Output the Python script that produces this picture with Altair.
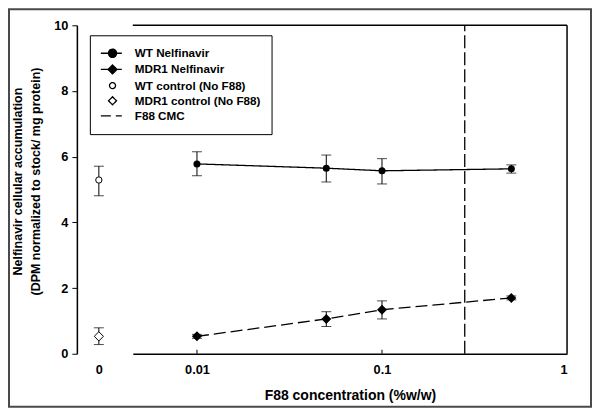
import altair as alt
import pandas as pd

# ---- data ----
conc = [0.01, 0.05, 0.1, 0.5]
wt_mean = [5.78, 5.65, 5.57, 5.63]
wt_lo = [5.42, 5.23, 5.17, 5.50]
wt_hi = [6.15, 6.05, 5.94, 5.75]
mdr_mean = [0.53, 1.06, 1.34, 1.70]
mdr_lo = [0.47, 0.83, 1.06, 1.64]
mdr_hi = [0.59, 1.28, 1.61, 1.76]

ctrl_series = ["WT control (No F88)", "MDR1 control (No F88)"]
ctrl_x = [0, 0]
ctrl_mean = [5.29, 0.53]
ctrl_lo = [4.81, 0.28]
ctrl_hi = [5.71, 0.79]

cmc = 0.28
x_ticks = [0.01, 0.1, 1]
y_ticks = [0, 2, 4, 6, 8, 10]
legend_labels = ["WT Nelfinavir", "MDR1 Nelfinavir", "WT control (No F88)",
                 "MDR1 control (No F88)", "F88 CMC"]

FONT = "Liberation Sans"
W_L, W_R, H = 56, 435, 329

wt = pd.DataFrame({"x": conc, "y": wt_mean, "lo": wt_lo, "hi": wt_hi})
mdr = pd.DataFrame({"x": conc, "y": mdr_mean, "lo": mdr_lo, "hi": mdr_hi})
ctrl = pd.DataFrame({"x": ctrl_x, "y": ctrl_mean, "lo": ctrl_lo, "hi": ctrl_hi,
                     "series": ctrl_series})
leg = pd.DataFrame({"label": legend_labels})
one = pd.DataFrame({"a": [0]})

yscale = alt.Scale(domain=[0, 10])
ytitle = ["Nelfinavir cellular accumulation", "(DPM normalized to stock/ mg protein)"]

# ---------------- left panel (x = 0) ----------------
xl_scale = alt.Scale(domain=[-1, 1.545])
xl_axis = alt.Axis(values=[0], format="d", domain=False, ticks=False, grid=False,
                   title=None, labelPadding=10)
yl_axis = alt.Axis(values=y_ticks, grid=False, tickSize=5, labelPadding=4,
                   title=ytitle, titlePadding=11, titleFontSize=12.5, titleY=156)

CAP = 10
lbase = alt.Chart(ctrl)
l_err = lbase.mark_rule(color="black", strokeWidth=1).encode(
    x=alt.X("x:Q", scale=xl_scale, axis=xl_axis),
    y=alt.Y("lo:Q", scale=yscale, axis=yl_axis),
    y2="hi:Q")
l_cap_lo = lbase.mark_tick(color="black", orient="horizontal", size=CAP, thickness=1).encode(
    x=alt.X("x:Q", scale=xl_scale), y=alt.Y("lo:Q", scale=yscale))
l_cap_hi = lbase.mark_tick(color="black", orient="horizontal", size=CAP, thickness=1).encode(
    x=alt.X("x:Q", scale=xl_scale), y=alt.Y("hi:Q", scale=yscale))
l_wt = lbase.transform_filter(alt.datum.series == ctrl_series[0]).mark_point(
    shape="circle", size=40, filled=True, fill="white", stroke="black", strokeWidth=1,
    opacity=1).encode(x=alt.X("x:Q", scale=xl_scale), y=alt.Y("y:Q", scale=yscale))
l_mdr = lbase.transform_filter(alt.datum.series == ctrl_series[1]).mark_point(
    shape="diamond", size=85, filled=True, fill="white", stroke="black", strokeWidth=1,
    opacity=1).encode(x=alt.X("x:Q", scale=xl_scale), y=alt.Y("y:Q", scale=yscale))

# outer figure border
border = alt.Chart(one).mark_rect(fill="transparent", stroke="#4a4a4a", strokeWidth=2).encode(
    x=alt.value(-68), x2=alt.value(515), y=alt.value(-16), y2=alt.value(382))

# legend (custom symbols: unit = 6px)
p_line_circle = ("M-1.167,0H2.333M1.45,0A0.667,0.667 0 1,1 0.117,0"
                 "A0.667,0.667 0 1,1 1.45,0Z")
p_line_diamond = "M-1.167,0H2.333M0.783,-0.75L1.533,0L0.783,0.75L0.033,0Z"
p_circle = "M1.283,0A0.5,0.5 0 1,1 0.283,0A0.5,0.5 0 1,1 1.283,0Z"
p_diamond = "M0.783,-0.667L1.45,0L0.783,0.667L0.117,0Z"
p_line = "M-1.167,0H2.333"
leg_props = dict(title=None, orient="none", legendX=13, legendY=10,
                 strokeColor="black", padding=11, fillColor="white",
                 labelFont=FONT, labelFontSize=11.7, labelFontWeight="bold",
                 labelColor="black", symbolStrokeWidth=1.3,
                 symbolSize=144, symbolOpacity=1, rowPadding=1.2, labelOffset=20)
legend_layer = alt.Chart(leg).mark_point(opacity=0, filled=True).encode(
    x=alt.value(0), y=alt.value(0),
    shape=alt.Shape("label:N", scale=alt.Scale(domain=legend_labels,
        range=[p_line_circle, p_line_diamond, p_circle, p_diamond, p_line]),
        legend=alt.Legend(**leg_props)),
    fill=alt.Fill("label:N", scale=alt.Scale(domain=legend_labels,
        range=["black", "black", "white", "white", "transparent"]),
        legend=alt.Legend(**leg_props)),
    stroke=alt.Stroke("label:N", scale=alt.Scale(domain=legend_labels,
        range=["black", "#000001", "#000002", "#000003", "#000004"]),
        legend=alt.Legend(**leg_props)),
    strokeDash=alt.StrokeDash("label:N", scale=alt.Scale(domain=legend_labels,
        range=[[1, 0], [1, 0], [1, 0], [1, 0], [10, 5]]),
        legend=alt.Legend(**leg_props)),
)

left = alt.layer(border, l_err, l_cap_lo, l_cap_hi, l_wt, l_mdr, legend_layer).properties(
    width=W_L, height=H)

# ---------------- right panel (log x) ----------------
xr_scale = alt.Scale(type="log", domain=[0.0045, 1])
xr_axis = alt.Axis(values=x_ticks, format="~g", ticks=False, grid=False,
                   labelPadding=10, title="F88 concentration (%w/w)", titlePadding=12,
                   titleFontSize=14)
yr = lambda f: alt.Y(f, scale=yscale, axis=None)

def series_layers(df, dash, shape, size):
    b = alt.Chart(df)
    line = b.mark_line(color="black", strokeWidth=1.3, strokeDash=dash).encode(
        x=alt.X("x:Q", scale=xr_scale, axis=xr_axis), y=yr("y:Q"))
    err = b.mark_rule(color="black", strokeWidth=1).encode(
        x=alt.X("x:Q", scale=xr_scale), y=yr("lo:Q"), y2="hi:Q")
    cap1 = b.mark_tick(color="black", orient="horizontal", size=CAP, thickness=1).encode(
        x=alt.X("x:Q", scale=xr_scale), y=yr("lo:Q"))
    cap2 = b.mark_tick(color="black", orient="horizontal", size=CAP, thickness=1).encode(
        x=alt.X("x:Q", scale=xr_scale), y=yr("hi:Q"))
    pts = b.mark_point(shape=shape, size=size, filled=True, color="black", opacity=1).encode(
        x=alt.X("x:Q", scale=xr_scale), y=yr("y:Q"))
    return [line, err, cap1, cap2, pts]

cmc_rule = alt.Chart(pd.DataFrame({"x": [cmc]})).mark_rule(
    color="black", strokeWidth=1.3, strokeDash=[13, 4]).encode(
    x=alt.X("x:Q", scale=xr_scale), y=alt.datum(0), y2=alt.datum(10))

tick_df = pd.DataFrame({"x": x_ticks[:2]})
inner_ticks = alt.Chart(tick_df).mark_rule(color="black", strokeWidth=1).encode(
    x=alt.X("x:Q", scale=xr_scale), y=alt.value(H - 4), y2=alt.value(H))
top_line = alt.Chart(one).mark_rule(color="black", strokeWidth=1.5).encode(
    x=alt.value(0), x2=alt.value(W_R), y=alt.value(0))
right_line = alt.Chart(one).mark_rule(color="black", strokeWidth=1.5).encode(
    x=alt.value(W_R), y=alt.value(0), y2=alt.value(H))

right = alt.layer(
    *series_layers(wt, [1, 0], "circle", 50),
    *series_layers(mdr, [12, 5], "diamond", 100),
    cmc_rule, inner_ticks, top_line, right_line,
).properties(width=W_R, height=H)

chart = alt.hconcat(left, right, spacing=0, bounds="flush").configure_view(
    strokeWidth=0).configure_axis(
    labelFont=FONT, labelFontSize=12.8, labelFontWeight="bold", labelColor="black",
    titleFont=FONT, titleFontWeight="bold", titleColor="black",
    domainColor="black", domainWidth=1.5, tickColor="black", tickWidth=1,
    titleLineHeight=18).properties(padding=0, background="white")

chart.save("out.html", embed_options={"renderer": "svg", "actions": False})
